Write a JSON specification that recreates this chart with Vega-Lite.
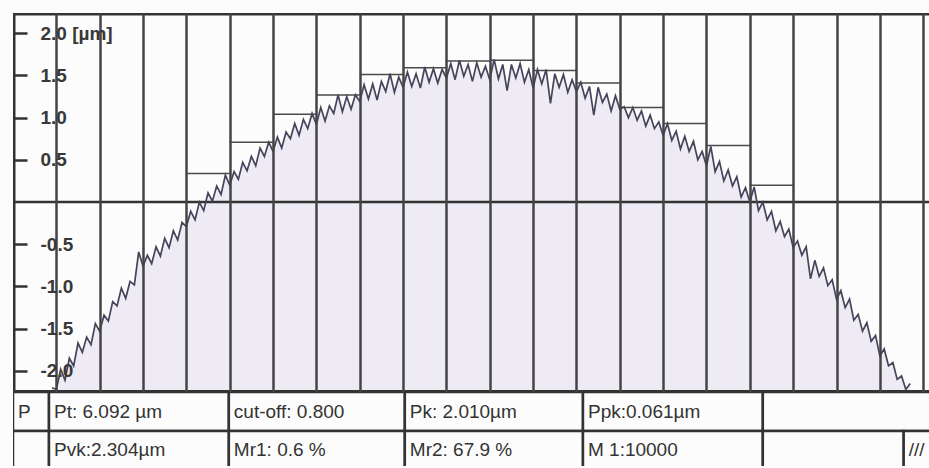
{
  "$schema": "https://vega.github.io/schema/vega-lite/v6.json",
  "background": "#fcfcfc",
  "padding": {"left": 11, "top": 13, "right": 0, "bottom": 0},
  "spacing": 0,
  "bounds": "flush",
  "config": {"view": {"stroke": null}, "font": "Liberation Sans"},
  "datasets": {
    "profile": [
      {"x":0.9,"z":-2.20},{"x":1.0,"z":-2.22},{"x":1.1,"z":-1.98},{"x":1.2,"z":-2.11},{"x":1.3,"z":-1.85},{"x":1.4,"z":-1.94},{"x":1.5,"z":-1.67},{"x":1.6,"z":-1.78},{"x":1.7,"z":-1.60},{"x":1.8,"z":-1.69},
      {"x":1.9,"z":-1.44},{"x":2.0,"z":-1.53},{"x":2.1,"z":-1.34},{"x":2.2,"z":-1.41},{"x":2.3,"z":-1.18},{"x":2.4,"z":-1.23},{"x":2.5,"z":-1.02},{"x":2.6,"z":-1.14},{"x":2.7,"z":-0.94},{"x":2.8,"z":-0.98},
      {"x":2.9,"z":-0.59},{"x":3.0,"z":-0.76},{"x":3.1,"z":-0.63},{"x":3.2,"z":-0.73},{"x":3.3,"z":-0.53},{"x":3.4,"z":-0.64},{"x":3.5,"z":-0.43},{"x":3.6,"z":-0.54},{"x":3.7,"z":-0.34},{"x":3.8,"z":-0.45},
      {"x":3.9,"z":-0.24},{"x":4.0,"z":-0.29},{"x":4.1,"z":-0.11},{"x":4.2,"z":-0.21},{"x":4.3,"z":0.00},{"x":4.4,"z":-0.10},{"x":4.5,"z":0.11},{"x":4.6,"z":0.01},{"x":4.7,"z":0.19},{"x":4.8,"z":0.09},
      {"x":4.9,"z":0.32},{"x":5.0,"z":0.20},{"x":5.1,"z":0.36},{"x":5.2,"z":0.27},{"x":5.3,"z":0.47},{"x":5.4,"z":0.37},{"x":5.5,"z":0.54},{"x":5.6,"z":0.43},{"x":5.7,"z":0.64},{"x":5.8,"z":0.54},
      {"x":5.9,"z":0.71},{"x":6.0,"z":0.60},{"x":6.1,"z":0.77},{"x":6.2,"z":0.64},{"x":6.3,"z":0.83},{"x":6.4,"z":0.75},{"x":6.5,"z":0.93},{"x":6.6,"z":0.79},{"x":6.7,"z":0.98},{"x":6.8,"z":0.87},
      {"x":6.9,"z":1.05},{"x":7.0,"z":0.92},{"x":7.1,"z":1.12},{"x":7.2,"z":0.96},{"x":7.3,"z":1.14},{"x":7.4,"z":1.05},{"x":7.5,"z":1.27},{"x":7.6,"z":1.07},{"x":7.7,"z":1.25},{"x":7.8,"z":1.10},
      {"x":7.9,"z":1.27},{"x":8.0,"z":1.19},{"x":8.1,"z":1.39},{"x":8.2,"z":1.22},{"x":8.3,"z":1.40},{"x":8.4,"z":1.21},{"x":8.5,"z":1.43},{"x":8.6,"z":1.31},{"x":8.7,"z":1.52},{"x":8.8,"z":1.30},
      {"x":8.9,"z":1.48},{"x":9.0,"z":1.36},{"x":9.1,"z":1.54},{"x":9.2,"z":1.37},{"x":9.3,"z":1.52},{"x":9.4,"z":1.35},{"x":9.5,"z":1.60},{"x":9.6,"z":1.42},{"x":9.7,"z":1.58},{"x":9.8,"z":1.41},
      {"x":9.9,"z":1.57},{"x":10.0,"z":1.47},{"x":10.1,"z":1.64},{"x":10.2,"z":1.45},{"x":10.3,"z":1.68},{"x":10.4,"z":1.49},{"x":10.5,"z":1.63},{"x":10.6,"z":1.43},{"x":10.7,"z":1.65},{"x":10.8,"z":1.48},
      {"x":10.9,"z":1.61},{"x":11.0,"z":1.45},{"x":11.1,"z":1.69},{"x":11.2,"z":1.46},{"x":11.3,"z":1.63},{"x":11.4,"z":1.32},{"x":11.5,"z":1.63},{"x":11.6,"z":1.47},{"x":11.7,"z":1.64},{"x":11.8,"z":1.42},
      {"x":11.9,"z":1.57},{"x":12.0,"z":1.35},{"x":12.1,"z":1.57},{"x":12.2,"z":1.40},{"x":12.3,"z":1.57},{"x":12.4,"z":1.17},{"x":12.5,"z":1.52},{"x":12.6,"z":1.36},{"x":12.7,"z":1.51},{"x":12.8,"z":1.30},
      {"x":12.9,"z":1.45},{"x":13.0,"z":1.31},{"x":13.1,"z":1.42},{"x":13.2,"z":1.23},{"x":13.3,"z":1.37},{"x":13.4,"z":1.03},{"x":13.5,"z":1.36},{"x":13.6,"z":1.18},{"x":13.7,"z":1.28},{"x":13.8,"z":1.08},
      {"x":13.9,"z":1.26},{"x":14.0,"z":1.10},{"x":14.1,"z":1.13},{"x":14.2,"z":1.00},{"x":14.3,"z":1.12},{"x":14.4,"z":0.97},{"x":14.5,"z":1.08},{"x":14.6,"z":0.90},{"x":14.7,"z":1.03},{"x":14.8,"z":0.87},
      {"x":14.9,"z":0.95},{"x":15.0,"z":0.79},{"x":15.1,"z":0.93},{"x":15.2,"z":0.73},{"x":15.3,"z":0.84},{"x":15.4,"z":0.63},{"x":15.5,"z":0.78},{"x":15.6,"z":0.60},{"x":15.7,"z":0.72},{"x":15.8,"z":0.50},
      {"x":15.9,"z":0.60},{"x":16.0,"z":0.43},{"x":16.1,"z":0.66},{"x":16.2,"z":0.36},{"x":16.3,"z":0.48},{"x":16.4,"z":0.25},{"x":16.5,"z":0.38},{"x":16.6,"z":0.19},{"x":16.7,"z":0.30},{"x":16.8,"z":0.06},
      {"x":16.9,"z":0.17},{"x":17.0,"z":0.00},{"x":17.1,"z":0.18},{"x":17.2,"z":-0.10},{"x":17.3,"z":0.00},{"x":17.4,"z":-0.21},{"x":17.5,"z":-0.11},{"x":17.6,"z":-0.34},{"x":17.7,"z":-0.23},{"x":17.8,"z":-0.41},
      {"x":17.9,"z":-0.32},{"x":18.0,"z":-0.54},{"x":18.1,"z":-0.46},{"x":18.2,"z":-0.63},{"x":18.3,"z":-0.53},{"x":18.4,"z":-0.91},{"x":18.5,"z":-0.69},{"x":18.6,"z":-0.88},{"x":18.7,"z":-0.78},{"x":18.8,"z":-0.99},
      {"x":18.9,"z":-0.92},{"x":19.0,"z":-1.15},{"x":19.1,"z":-1.05},{"x":19.2,"z":-1.25},{"x":19.3,"z":-1.15},{"x":19.4,"z":-1.40},{"x":19.5,"z":-1.33},{"x":19.6,"z":-1.53},{"x":19.7,"z":-1.43},{"x":19.8,"z":-1.65},
      {"x":19.9,"z":-1.58},{"x":20.0,"z":-1.82},{"x":20.1,"z":-1.74},{"x":20.2,"z":-1.94},{"x":20.3,"z":-1.90},{"x":20.4,"z":-2.10},{"x":20.5,"z":-2.06},{"x":20.6,"z":-2.22},{"x":20.7,"z":-2.15}
    ],
    "steps": [
      {"c0":4,"c1":5,"level":0.34},{"c0":5,"c1":6,"level":0.71},{"c0":6,"c1":7,"level":1.04},{"c0":7,"c1":8,"level":1.27},
      {"c0":8,"c1":9,"level":1.51},{"c0":9,"c1":10,"level":1.59},{"c0":10,"c1":11,"level":1.67},{"c0":11,"c1":12,"level":1.68},
      {"c0":12,"c1":13,"level":1.56},{"c0":13,"c1":14,"level":1.41},{"c0":14,"c1":15,"level":1.12},{"c0":15,"c1":16,"level":0.93},
      {"c0":16,"c1":17,"level":0.67},{"c0":17,"c1":18,"level":0.2}
    ],
    "table": [
      {"x0":0,"x1":0.83,"r0":0,"r1":1,"label":"P"},
      {"x0":0.83,"x1":4.98,"r0":0,"r1":1,"label":"Pt: 6.092 µm"},
      {"x0":4.98,"x1":9.04,"r0":0,"r1":1,"label":"cut-off: 0.800"},
      {"x0":9.04,"x1":13.15,"r0":0,"r1":1,"label":"Pk: 2.010µm"},
      {"x0":13.15,"x1":17.3,"r0":0,"r1":1,"label":"Ppk:0.061µm"},
      {"x0":17.3,"x1":21.6,"r0":0,"r1":1,"label":""},
      {"x0":0,"x1":0.83,"r0":1,"r1":2,"label":""},
      {"x0":0.83,"x1":4.98,"r0":1,"r1":2,"label":"Pvk:2.304µm"},
      {"x0":4.98,"x1":9.04,"r0":1,"r1":2,"label":"Mr1: 0.6 %"},
      {"x0":9.04,"x1":13.15,"r0":1,"r1":2,"label":"Mr2: 67.9 %"},
      {"x0":13.15,"x1":17.3,"r0":1,"r1":2,"label":"M 1:10000"},
      {"x0":17.3,"x1":20.55,"r0":1,"r1":2,"label":""},
      {"x0":20.55,"x1":21.6,"r0":1,"r1":2,"label":"///"}
    ]
  },
  "vconcat": [
    {
      "width": 918,
      "height": 379,
      "layer": [
        {
          "data": {"name": "profile"},
          "mark": {"type": "area", "color": "#eeebf5", "clip": true},
          "encoding": {
            "x": {"field": "x", "type": "quantitative",
                  "scale": {"domain": [0, 21.18], "nice": false, "zero": false},
                  "axis": {"values": [1,2,3,4,5,6,7,8,9,10,11,12,13,14,15,16,17,18,19,20,21],
                           "grid": true, "gridColor": "#444", "gridWidth": 2.5,
                           "labels": false, "ticks": false, "domain": false, "title": null, "zindex": 1}},
            "y": {"field": "z", "type": "quantitative",
                  "scale": {"domain": [-2.25, 2.24], "nice": false, "zero": false},
                  "axis": {"orient": "left", "values": [-2, -1.5, -1, -0.5, 0.5, 1, 1.5, 2],
                           "offset": -14, "tickSize": 13, "tickWidth": 2.5, "tickColor": "#333",
                           "domain": false, "grid": false, "title": null, "zindex": 1,
                           "labelAlign": "left", "labelBaseline": "middle", "labelPadding": -26,
                           "labelFont": "Liberation Sans", "labelFontSize": 19, "labelFontWeight": "bold",
                           "labelColor": "#383838", "labelFlush": false, "labelOverlap": false, "labelBound": false,
                           "labelExpr": "datum.value == 2 ? '2.0 [µm]' : (datum.value < 0 ? '-' : '') + format(abs(datum.value), '.1f')"}},
            "y2": {"datum": -2.25}
          }
        },
        {
          "data": {"values": [{}]},
          "mark": {"type": "rule", "color": "#333", "strokeWidth": 2.5},
          "encoding": {"y": {"datum": 0}}
        },
        {
          "data": {"values": [{}]},
          "mark": {"type": "rule", "color": "#333", "strokeWidth": 5, "clip": true},
          "encoding": {"x": {"datum": 0}}
        },
        {
          "data": {"values": [{}]},
          "mark": {"type": "rule", "color": "#333", "strokeWidth": 5, "clip": true},
          "encoding": {"y": {"datum": 2.24}}
        },
        {
          "data": {"values": [{}]},
          "mark": {"type": "rule", "color": "#333", "strokeWidth": 4, "clip": true},
          "encoding": {"y": {"datum": -2.25}}
        },
        {
          "data": {"name": "steps"},
          "mark": {"type": "rule", "color": "#4a4a4a", "strokeWidth": 1.5},
          "encoding": {
            "x": {"field": "c0", "type": "quantitative"},
            "x2": {"field": "c1"},
            "y": {"field": "level", "type": "quantitative"}
          }
        },
        {
          "data": {"name": "profile"},
          "mark": {"type": "line", "color": "#46435a", "strokeWidth": 1.7, "clip": true},
          "encoding": {
            "x": {"field": "x", "type": "quantitative"},
            "y": {"field": "z", "type": "quantitative"}
          }
        }
      ]
    },
    {
      "width": 918,
      "height": 74,
      "data": {"name": "table"},
      "layer": [
        {
          "mark": {"type": "rect", "fill": "#fcfcfc", "stroke": "#333", "strokeWidth": 2.5, "clip": true},
          "encoding": {
            "x": {"field": "x0", "type": "quantitative", "scale": {"domain": [0, 21.18], "nice": false, "zero": false}, "axis": null},
            "x2": {"field": "x1"},
            "y": {"field": "r0", "type": "quantitative", "scale": {"domain": [0, 1.9], "reverse": true, "nice": false, "zero": false}, "axis": null},
            "y2": {"field": "r1"}
          }
        },
        {
          "mark": {"type": "text", "align": "left", "baseline": "middle", "dx": 5, "dy": 19.5, "fontSize": 19, "color": "#333", "font": "Liberation Sans"},
          "encoding": {
            "x": {"field": "x0", "type": "quantitative"},
            "y": {"field": "r0", "type": "quantitative"},
            "text": {"field": "label"}
          }
        }
      ]
    }
  ]
}
